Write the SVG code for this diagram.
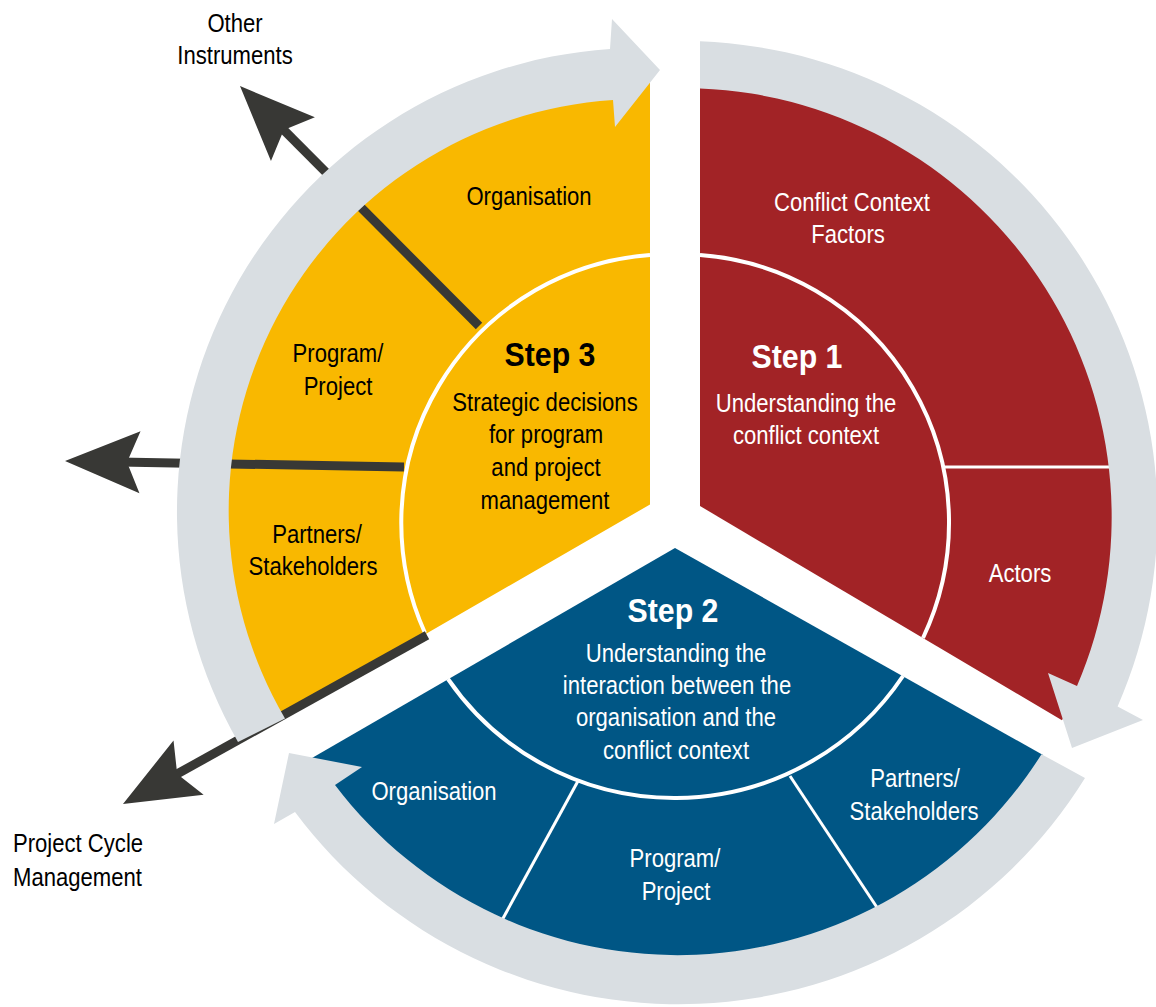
<svg xmlns="http://www.w3.org/2000/svg" width="1156" height="1007" viewBox="0 0 1156 1007">
<defs>
<style>
.t{font-family:"Liberation Sans",Arial,Helvetica,sans-serif;font-size:26px;text-anchor:middle}
.l{text-anchor:start}
.b{font-weight:bold;font-size:34px}
.k{fill:#000}
.w{fill:#fff}
.arc{fill:none;stroke:#fff;stroke-width:4}
.div{fill:none;stroke:#fff;stroke-width:3}
.ring{fill:#D9DEE2}
.out{fill:none;stroke:#383835;stroke-width:9;marker-end:url(#head)}
</style>
<marker id="head" markerUnits="userSpaceOnUse" orient="auto" refX="0" refY="0" viewBox="-30 -40 100 80" markerWidth="100" markerHeight="80" overflow="visible">
<path d="M54,0 L-21,-31 L-8,0 L-21,31 Z" fill="#383835"/>
</marker>
</defs>
<rect width="1156" height="1007" fill="#fff"/>

<g id="step3">
<path d="M650,504.5 L282.4,716.7 A413,413 0 0 1 612,99 L650,75 Z" fill="#F9B800"/>
<path class="arc" d="M650,255 A268.4,268.4 0 0 0 425,633"/>
<text class="t k" transform="matrix(0.85 0 0 1 529 205)">Organisation</text>
<text class="t k" transform="matrix(0.85 0 0 1 338 362)">Program/</text>
<text class="t k" transform="matrix(0.85 0 0 1 338 395)">Project</text>
<text class="t k" transform="matrix(0.85 0 0 1 317 543)">Partners/</text>
<text class="t k" transform="matrix(0.85 0 0 1 313 575)">Stakeholders</text>
<text class="t b k" transform="matrix(0.89 0 0 1 550 366)">Step 3</text>
<text class="t k" transform="matrix(0.85 0 0 1 545 411)">Strategic decisions</text>
<text class="t k" transform="matrix(0.85 0 0 1 546 443)">for program</text>
<text class="t k" transform="matrix(0.85 0 0 1 546 476)">and project</text>
<text class="t k" transform="matrix(0.85 0 0 1 545 509)">management</text>
</g>

<g id="step1">
<path d="M700,506 L700,86.4 A431,431 0 0 1 1062,720.3 Z" fill="#A22326"/>
<path class="arc" d="M700,255 A268.4,268.4 0 0 1 923,638"/>
<path class="div" d="M943,467 H1112"/>
<text class="t w" transform="matrix(0.85 0 0 1 852 211)">Conflict Context</text>
<text class="t w" transform="matrix(0.85 0 0 1 848 243)">Factors</text>
<text class="t b w" transform="matrix(0.89 0 0 1 797 368)">Step 1</text>
<text class="t w" transform="matrix(0.85 0 0 1 806 412)">Understanding the</text>
<text class="t w" transform="matrix(0.85 0 0 1 806 444)">conflict context</text>
<text class="t w" transform="matrix(0.85 0 0 1 1020 582)">Actors</text>
</g>

<g id="step2">
<path d="M675,548 L1043,755 A432,432 0 0 1 312,758 Z" fill="#005685"/>
<path class="arc" d="M448,679 A275,275 0 0 0 903,676"/>
<path class="div" d="M578,781 L501,922"/>
<path class="div" d="M790,776 L882,915"/>
<text class="t b w" transform="matrix(0.89 0 0 1 673 622)">Step 2</text>
<text class="t w" transform="matrix(0.85 0 0 1 676 662)">Understanding the</text>
<text class="t w" transform="matrix(0.85 0 0 1 677 694)">interaction between the</text>
<text class="t w" transform="matrix(0.85 0 0 1 676 726)">organisation and the</text>
<text class="t w" transform="matrix(0.85 0 0 1 676 759)">conflict context</text>
<text class="t w" transform="matrix(0.85 0 0 1 434 800)">Organisation</text>
<text class="t w" transform="matrix(0.85 0 0 1 675 867)">Program/</text>
<text class="t w" transform="matrix(0.85 0 0 1 676 900)">Project</text>
<text class="t w" transform="matrix(0.85 0 0 1 915 787)">Partners/</text>
<text class="t w" transform="matrix(0.85 0 0 1 914 820)">Stakeholders</text>
</g>

<g id="connectors">
<path class="out" d="M479,326 L278.1,124.3"/>
<path class="out" d="M404,467 L119,462"/>
<path class="out" d="M427,635.3 L170.2,777.8"/>
<path class="ring" d="M238,742 A464,464 0 0 1 610,49 L612,19 L660,70 L615,127 L613,100 A411.5,411.5 0 0 0 285,718.4 Z"/>
<path class="ring" d="M700,41.3 A475,475 0 0 1 1117.6,706.4 L1143,720 L1072,748 L1048,673 L1077,686 A429,429 0 0 0 700,88.4 Z"/>
<path class="ring" d="M1041.5,754.2 L1085,778 A478.5,478.5 0 0 1 295,812 L274,824 L289,753 L362,767 L335,785 A430,430 0 0 0 1041.5,754.2 Z"/>
</g>

<g id="other-instruments">
<text class="t k" transform="matrix(0.85 0 0 1 235 32)">Other</text>
<text class="t k" transform="matrix(0.85 0 0 1 235 64)">Instruments</text>
</g>

<g id="project-cycle-management">
<text class="t l k" transform="matrix(0.85 0 0 1 13 852)">Project Cycle</text>
<text class="t l k" transform="matrix(0.85 0 0 1 13 886)">Management</text>
</g>
</svg>
